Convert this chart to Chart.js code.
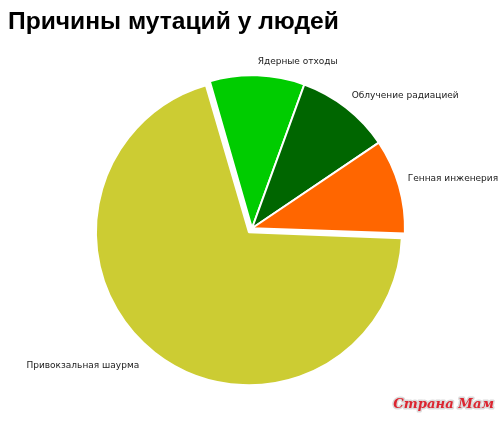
<!DOCTYPE html>
<html><head><meta charset="utf-8">
<script src="https://cdn.jsdelivr.net/npm/chart.js@4.4.1/dist/chart.umd.min.js"></script>
<style>html,body{margin:0;padding:0;background:#fff;}</style>
</head><body>
<canvas id="c" width="500" height="421"></canvas>
<script>
const titleText = 'Причины мутаций у людей';
const categories = ['Привокзальная шаурма', 'Ядерные отходы', 'Облучение радиацией', 'Генная инженерия'];
const values = [70, 10, 10, 10];
const watermark = 'Страна Мам';

const R = 153;
const OFFSET = 20;

const fixRadius = {
  id: 'fixRadius',
  afterDatasetUpdate(chart, args) {
    const meta = chart.getDatasetMeta(args.index);
    meta.data.forEach(arc => {
      const o = ((arc.options && arc.options.offset) || 0) / 4;
      const circ = arc.endAngle - arc.startAngle;
      const fix = 1 - Math.sin(Math.min(Math.PI, circ));
      arc.outerRadius = R - o * fix;
    });
  }
};

const outLabels = {
  id: 'outLabels',
  afterDatasetsDraw(chart) {
    const meta = chart.getDatasetMeta(0);
    const ctx = chart.ctx;
    ctx.save();
    ctx.font = '9px "DejaVu Sans"';
    ctx.fillStyle = '#1a1a1a';
    ctx.textBaseline = 'middle';
    meta.data.forEach((arc, i) => {
      const mid = (arc.startAngle + arc.endAngle) / 2;
      const sh = ((arc.options && arc.options.offset) || 0) / 4;
      const cx = arc.x + Math.cos(mid) * sh, cy = arc.y + Math.sin(mid) * sh;
      const d = R + 9;
      let x = cx + Math.cos(mid) * d, y = cy + Math.sin(mid) * d;
      if (Math.cos(mid) >= 0) { ctx.textAlign = 'left'; y -= 5; }
      else { ctx.textAlign = 'right'; x -= 10; y += 6; }
      ctx.fillText(chart.data.labels[i], x, y);
    });
    ctx.restore();
  },
  afterDraw(chart) {
    const ctx = chart.ctx;
    ctx.save();
    ctx.font = 'italic bold 13.2px "DejaVu Serif"';
    ctx.textAlign = 'right';
    ctx.textBaseline = 'alphabetic';
    ctx.lineJoin = 'round';
    ctx.strokeStyle = 'rgba(215,215,215,0.9)';
    ctx.lineWidth = 3;
    ctx.strokeText(watermark, chart.width - 6, 408);
    ctx.fillStyle = '#dc2530';
    ctx.fillText(watermark, chart.width - 6, 408);
    ctx.restore();
  }
};

new Chart(document.getElementById('c'), {
  type: 'pie',
  data: {
    labels: categories,
    datasets: [{
      data: values,
      backgroundColor: ['#cccc33', '#00cc00', '#006600', '#ff6600'],
      borderColor: '#ffffff',
      borderWidth: 2,
      offset: (c) => c.dataIndex === 0 ? OFFSET : 0
    }]
  },
  options: {
    responsive: false,
    animation: false,
    rotation: 92,
    radius: R,
    layout: { padding: { left: 8, right: 4, top: 0, bottom: 1 } },
    events: [],
    plugins: {
      legend: { display: false },
      tooltip: { enabled: false },
      title: {
        display: true,
        text: titleText,
        align: 'start',
        color: '#000',
        font: { family: '"Liberation Sans", Arial, sans-serif', size: 24.6, weight: 'bold', lineHeight: 1.2 },
        padding: { top: 7, bottom: 0 }
      }
    }
  },
  plugins: [fixRadius, outLabels]
});
</script>
</body></html>
